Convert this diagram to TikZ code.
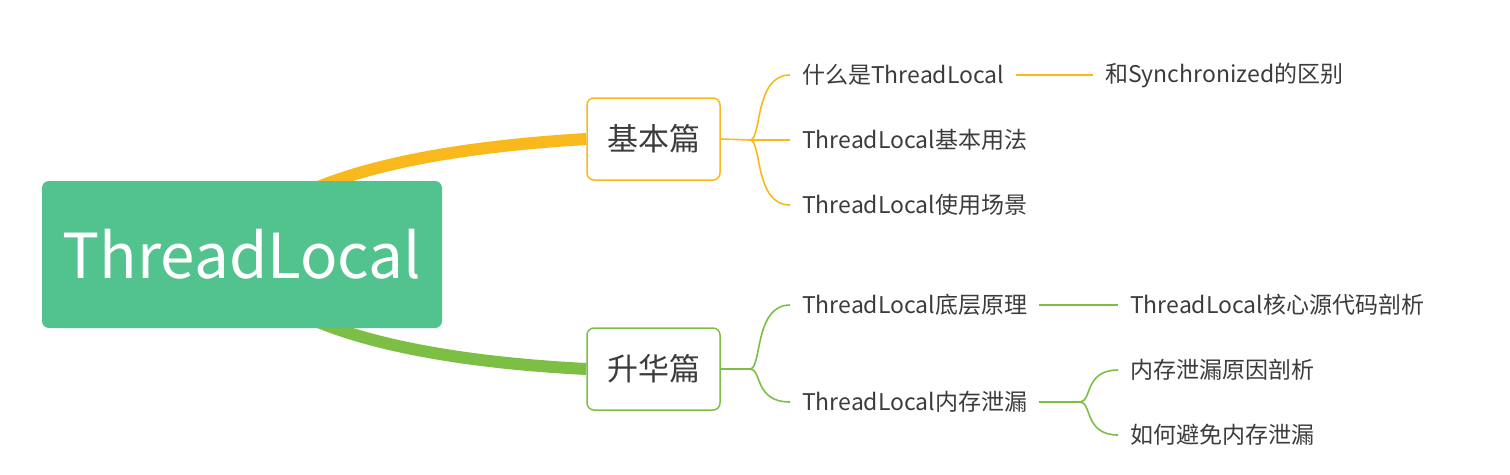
\documentclass[tikz,border=0pt]{standalone}
\usepackage{fontspec}
\setmainfont{Noto Sans CJK SC}
\usetikzlibrary{backgrounds}
\definecolor{rootg}{HTML}{52C28E}
\definecolor{orng}{HTML}{F9B91C}
\definecolor{grn}{HTML}{7DBF45}
\definecolor{txt}{HTML}{3C3C3C}
\begin{document}
\begin{tikzpicture}[x=1pt,y=-1pt,
  rootbox/.style={fill=rootg,rounded corners=7pt,text=white,minimum width=400pt,minimum height=147pt,inner sep=0pt,font=\fontsize{62}{72}\selectfont},
  mainbox/.style={draw=#1,line width=1.5pt,fill=white,rounded corners=7pt,minimum width=133pt,minimum height=82pt,inner sep=0pt,text=txt,font=\fontsize{31}{36}\selectfont},
  leaf/.style={anchor=west,inner xsep=12pt,inner ysep=0pt,text=txt,font=\fontsize{23}{27}\selectfont},
  thick/.style={line width=12pt,draw=#1},
  thin/.style={line width=1.6pt,draw=#1}]
\useasboundingbox (0,0) rectangle (1510,474);
\node[rootbox] (root) at (242,254.5) {ThreadLocal};
\node[mainbox=orng] (b1) at (653.5,139) {基本篇};
\node[mainbox=grn] (b2) at (653.5,369) {升华篇};
\coordinate (o0) at (290,200);
\coordinate (g0) at (290,309);
\begin{pgfonlayer}{background}
\draw[thick=orng] (o0) .. controls (360,163) and (470,146) .. (b1.west);
\draw[thick=grn] (g0) .. controls (360,346) and (470,363) .. (b2.west);
\end{pgfonlayer}
% orange children
\node[leaf] (c1) at (790,75) {什么是ThreadLocal};
\node[leaf] (c2) at (790,140) {ThreadLocal基本用法};
\node[leaf] (c3) at (790,205) {ThreadLocal使用场景};
\node[leaf] (d1) at (1093,75) {和Synchronized的区别};
\coordinate (j1) at (750,140);
\draw[thin=orng] (b1.east) -- (j1);
\draw[thin=orng] (j1) .. controls (762,140) and (754,75) .. (c1.west);
\draw[thin=orng] (j1) -- (c2.west);
\draw[thin=orng] (j1) .. controls (762,140) and (754,205) .. (c3.west);
\draw[thin=orng] (c1.east) -- (d1.west);
% green children
\node[leaf] (c4) at (790,305) {ThreadLocal底层原理};
\node[leaf] (c5) at (790,402) {ThreadLocal内存泄漏};
\node[leaf] (d4) at (1118,305) {ThreadLocal核心源代码剖析};
\node[leaf] (d5) at (1118,370) {内存泄漏原因剖析};
\node[leaf] (d6) at (1118,435) {如何避免内存泄漏};
\coordinate (j2) at (750,369);
\coordinate (j3) at (1080,402);
\draw[thin=grn] (b2.east) -- (j2);
\draw[thin=grn] (j2) .. controls (762,369) and (754,305) .. (c4.west);
\draw[thin=grn] (j2) .. controls (762,369) and (754,402) .. (c5.west);
\draw[thin=grn] (c4.east) -- (d4.west);
\draw[thin=grn] (c5.east) -- (j3);
\draw[thin=grn] (j3) .. controls (1092,402) and (1084,370) .. (d5.west);
\draw[thin=grn] (j3) .. controls (1092,402) and (1084,435) .. (d6.west);
\end{tikzpicture}
\end{document}
